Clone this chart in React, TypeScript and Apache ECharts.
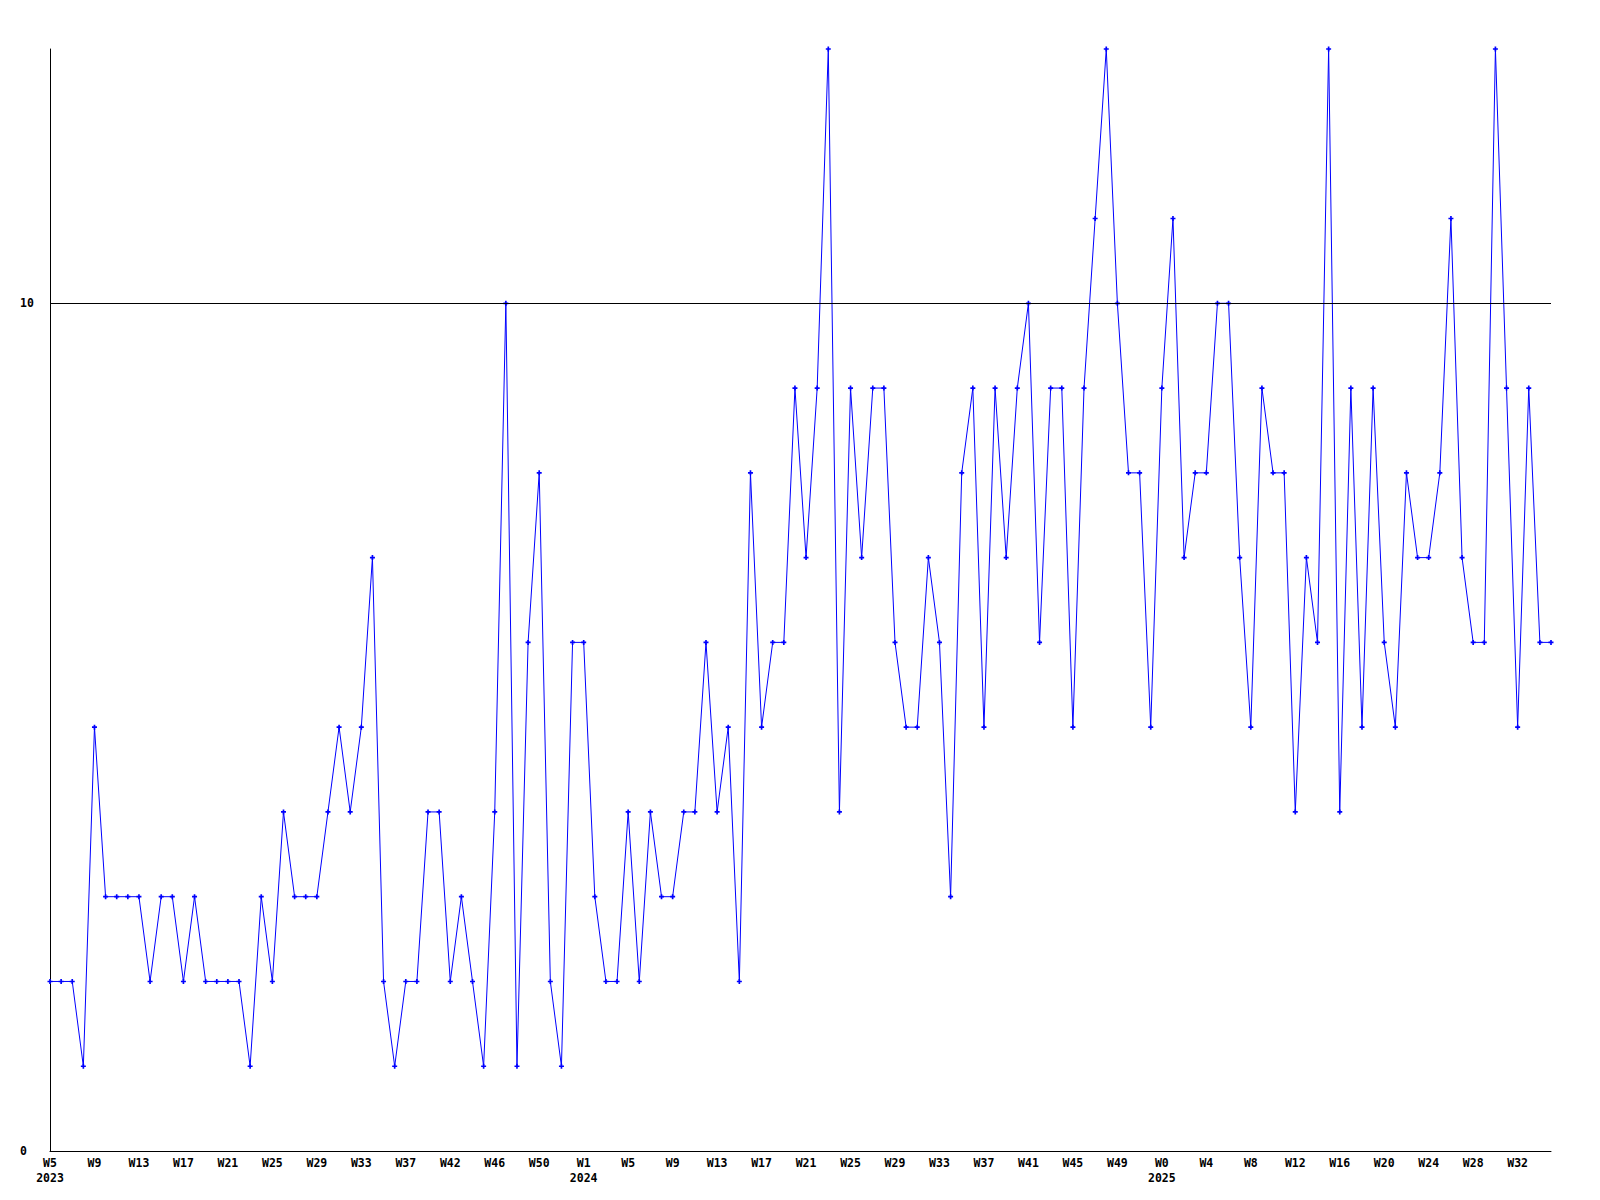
import React, { useEffect, useRef } from "react";
import * as echarts from "echarts";

const weeks: string[] = [
  "W5\n2023", "W6", "W7", "W8", "W9", "W10", "W11", "W12", "W13", "W14", "W15", "W16", "W17", "W18", "W19", "W20",
  "W21", "W22", "W23", "W24", "W25", "W26", "W27", "W28", "W29", "W30", "W31", "W32", "W33", "W34", "W35", "W36",
  "W37", "W39", "W40", "W41", "W42", "W43", "W44", "W45", "W46", "W47", "W48", "W49", "W50", "W51", "W52", "W53",
  "W1\n2024", "W2", "W3", "W4", "W5", "W6", "W7", "W8", "W9", "W10", "W11", "W12", "W13", "W14", "W15", "W16",
  "W17", "W18", "W19", "W20", "W21", "W22", "W23", "W24", "W25", "W26", "W27", "W28", "W29", "W30", "W31", "W32",
  "W33", "W34", "W35", "W36", "W37", "W38", "W39", "W40", "W41", "W42", "W43", "W44", "W45", "W46", "W47", "W48",
  "W49", "W50", "W51", "W52", "W0\n2025", "W1", "W2", "W3", "W4", "W5", "W6", "W7", "W8", "W9", "W10", "W11",
  "W12", "W13", "W14", "W15", "W16", "W17", "W18", "W19", "W20", "W21", "W22", "W23", "W24", "W25", "W26", "W27",
  "W28", "W29", "W30", "W31", "W32", "W33", "W34", "W35",
];

const values2023a: number[] = [2, 2, 2, 1, 5, 3, 3, 3, 3, 2, 3, 3, 2, 3, 2, 2, 2, 2, 1, 3, 2, 4, 3, 3, 3, 4, 5, 4, 5];
const values2023b: number[] = [7, 2, 1, 2, 2, 4, 4, 2, 3, 2, 1, 4, 10, 1, 6, 8, 2, 1, 6, 6, 3, 2, 2, 4, 2, 4, 3, 3, 4, 4];
const values2024: number[] = [6, 4, 5, 2, 8, 5, 6, 6, 9, 7, 9, 13, 4, 9, 7, 9, 9, 6, 5, 5, 7, 6, 3, 8, 9, 5, 9, 7, 9, 10, 6, 9, 9, 5, 9, 11, 13];
const values2025: number[] = [10, 8, 8, 5, 9, 11, 7, 8, 8, 10, 10, 7, 5, 9, 8, 8, 4, 7, 6, 13, 4, 9, 5, 9, 6, 5, 8, 7, 7, 8, 11, 7, 6, 6, 13, 9, 5, 9, 6, 6];

const values: number[] = [...values2023a, ...values2023b, ...values2024, ...values2025];

const yTicks = { min: 0, max: 13, interval: 10, refLine: 10 };

const FONT = "DejaVu Sans Mono";

export default function App() {
  const ref = useRef<HTMLDivElement>(null);

  useEffect(() => {
    if (!ref.current) return;
    const chart = echarts.init(ref.current, null, { renderer: "svg" });
    chart.setOption({
      animation: false,
      backgroundColor: "#ffffff",
      grid: { left: 50, right: 49, top: 49, bottom: 49, containLabel: false },
      xAxis: {
        type: "category",
        data: weeks,
        boundaryGap: false,
        axisLine: { show: true, lineStyle: { color: "#000000", width: 1 } },
        axisTick: { show: false },
        splitLine: { show: false },
        axisLabel: {
          interval: 3,
          margin: 4,
          color: "#000000",
          fontFamily: FONT,
          fontWeight: "bold",
          fontSize: 11.5,
          lineHeight: 15,
          hideOverlap: false,
        },
      },
      yAxis: {
        type: "value",
        min: yTicks.min,
        max: yTicks.max,
        interval: yTicks.interval,
        axisLine: { show: true, lineStyle: { color: "#000000", width: 1 } },
        axisTick: { show: false },
        splitLine: { show: false },
        axisLabel: {
          showMaxLabel: false,
          align: "left",
          margin: 30,
          color: "#000000",
          fontFamily: FONT,
          fontWeight: "bold",
          fontSize: 11.5,
        },
      },
      series: [
        {
          type: "line",
          data: values,
          showAllSymbol: true,
          symbol: "path://M2,0L4,0L4,2L6,2L6,4L4,4L4,6L2,6L2,4L0,4L0,2L2,2Z",
          symbolSize: 5,
          itemStyle: { color: "#0000ff" },
          lineStyle: { color: "#0000ff", width: 1 },
          markLine: {
            silent: true,
            symbol: ["none", "none"],
            label: { show: false },
            lineStyle: { color: "#000000", width: 1, type: "solid" },
            data: [{ yAxis: yTicks.refLine }],
          },
        },
      ],
    });
    return () => chart.dispose();
  }, []);

  return (
    <div
      ref={ref}
      style={{ position: "absolute", left: 0, top: 0, width: 1600, height: 1200, background: "#fff" }}
    />
  );
}
